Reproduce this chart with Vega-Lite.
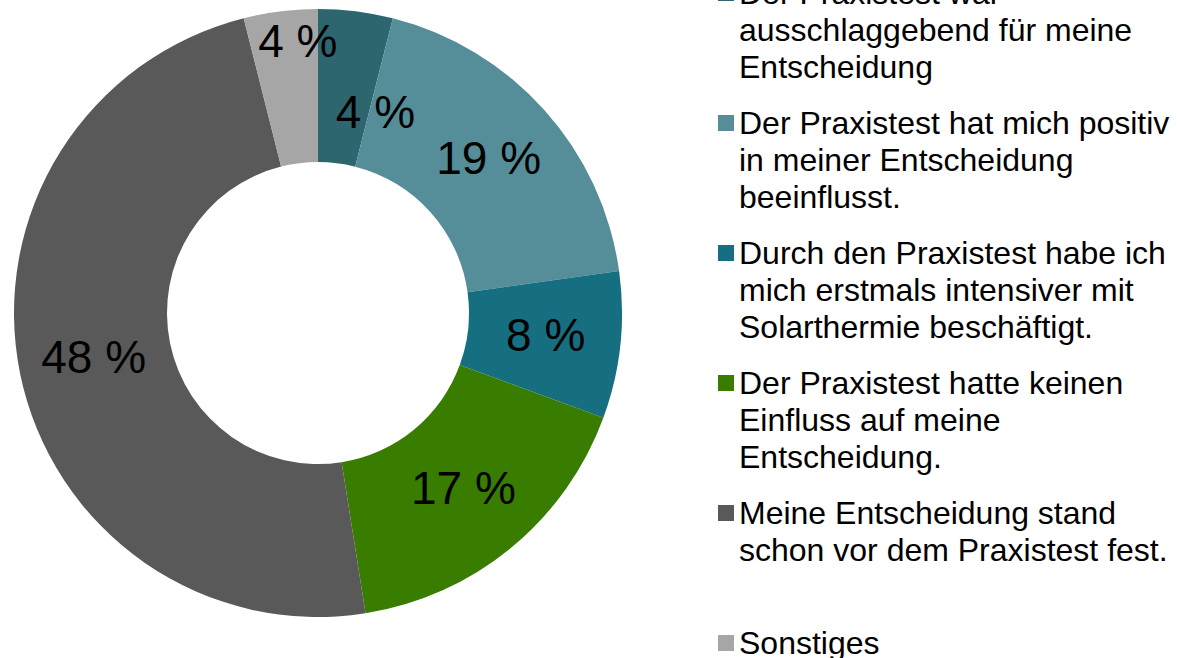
{
  "$schema": "https://vega.github.io/schema/vega-lite/v6.json",
  "width": 636,
  "height": 626,
  "autosize": {"type": "none"},
  "padding": {"left": 0, "top": 0, "right": 541, "bottom": 32},
  "background": "white",
  "config": {"view": {"stroke": null}, "font": "Liberation Sans"},
  "data": {
    "values": [
      {"idx": 1, "category": "Der Praxistest war ausschlaggebend für meine Entscheidung", "pct": 3.96, "label": "4 %"},
      {"idx": 2, "category": "Der Praxistest hat mich positiv in meiner Entscheidung beeinflusst.", "pct": 18.84, "label": "19 %"},
      {"idx": 3, "category": "Durch den Praxistest habe ich mich erstmals intensiver mit Solarthermie beschäftigt.", "pct": 7.8, "label": "8 %"},
      {"idx": 4, "category": "Der Praxistest hatte keinen Einfluss auf meine Entscheidung.", "pct": 16.9, "label": "17 %"},
      {"idx": 5, "category": "Meine Entscheidung stand schon vor dem Praxistest fest.", "pct": 48.57, "label": "48 %"},
      {"idx": 6, "category": "Sonstiges", "pct": 3.93, "label": "4 %"}
    ]
  },
  "encoding": {
    "theta": {"field": "pct", "type": "quantitative", "stack": true},
    "order": {"field": "idx", "type": "quantitative"}
  },
  "layer": [
    {
      "mark": {"type": "arc", "innerRadius": 151, "outerRadius": 304},
      "encoding": {
        "color": {
          "field": "category",
          "type": "nominal",
          "scale": {
            "domain": [
              "Der Praxistest war ausschlaggebend für meine Entscheidung",
              "Der Praxistest hat mich positiv in meiner Entscheidung beeinflusst.",
              "Durch den Praxistest habe ich mich erstmals intensiver mit Solarthermie beschäftigt.",
              "Der Praxistest hatte keinen Einfluss auf meine Entscheidung.",
              "Meine Entscheidung stand schon vor dem Praxistest fest.",
              "Sonstiges"
            ],
            "range": ["#2E6670", "#558E99", "#156F80", "#387C00", "#595959", "#A6A6A6"]
          },
          "legend": {
            "orient": "none",
            "legendX": 710,
            "legendY": -23,
            "title": null,
            "padding": 0,
            "symbolType": "square",
            "symbolSize": 256,
            "symbolStrokeWidth": 0,
            "symbolOpacity": 1,
            "labelFont": "Liberation Sans",
            "labelFontSize": 32,
            "labelColor": "black",
            "labelOffset": -3,
            "labelLimit": 0,
            "rowPadding": 23,
            "labelExpr": "datum.value == 'Der Praxistest war ausschlaggebend für meine Entscheidung' ? ['Der Praxistest war', 'ausschlaggebend für meine', 'Entscheidung'] : datum.value == 'Der Praxistest hat mich positiv in meiner Entscheidung beeinflusst.' ? ['Der Praxistest hat mich positiv', 'in meiner Entscheidung', 'beeinflusst.'] : datum.value == 'Durch den Praxistest habe ich mich erstmals intensiver mit Solarthermie beschäftigt.' ? ['Durch den Praxistest habe ich', 'mich erstmals intensiver mit', 'Solarthermie beschäftigt.'] : datum.value == 'Der Praxistest hatte keinen Einfluss auf meine Entscheidung.' ? ['Der Praxistest hatte keinen', 'Einfluss auf meine', 'Entscheidung.'] : datum.value == 'Meine Entscheidung stand schon vor dem Praxistest fest.' ? ['Meine Entscheidung stand', 'schon vor dem Praxistest fest.', ' '] : datum.label",
            "encode": {
              "labels": {
                "update": {
                  "lineHeight": {"value": 37},
                  "baseline": {"value": "alphabetic"},
                  "dy": {"value": 11}
                }
              }
            }
          }
        }
      }
    },
    {
      "mark": {"type": "text", "radius": 229, "font": "Liberation Sans", "fontSize": 46, "color": "black", "align": "center", "baseline": "middle"},
      "encoding": {
        "text": {"condition": {"test": "datum.idx >= 2 && datum.idx <= 5", "field": "label"}, "value": ""}
      }
    },
    {
      "mark": {"type": "text", "radius": 229, "dx": 29, "dy": 28, "font": "Liberation Sans", "fontSize": 46, "color": "black", "align": "center", "baseline": "middle"},
      "encoding": {
        "text": {"condition": {"test": "datum.idx == 1", "field": "label"}, "value": ""}
      }
    },
    {
      "mark": {"type": "text", "radius": 229, "dx": 8, "dy": -43, "font": "Liberation Sans", "fontSize": 46, "color": "black", "align": "center", "baseline": "middle"},
      "encoding": {
        "text": {"condition": {"test": "datum.idx == 6", "field": "label"}, "value": ""}
      }
    }
  ]
}
